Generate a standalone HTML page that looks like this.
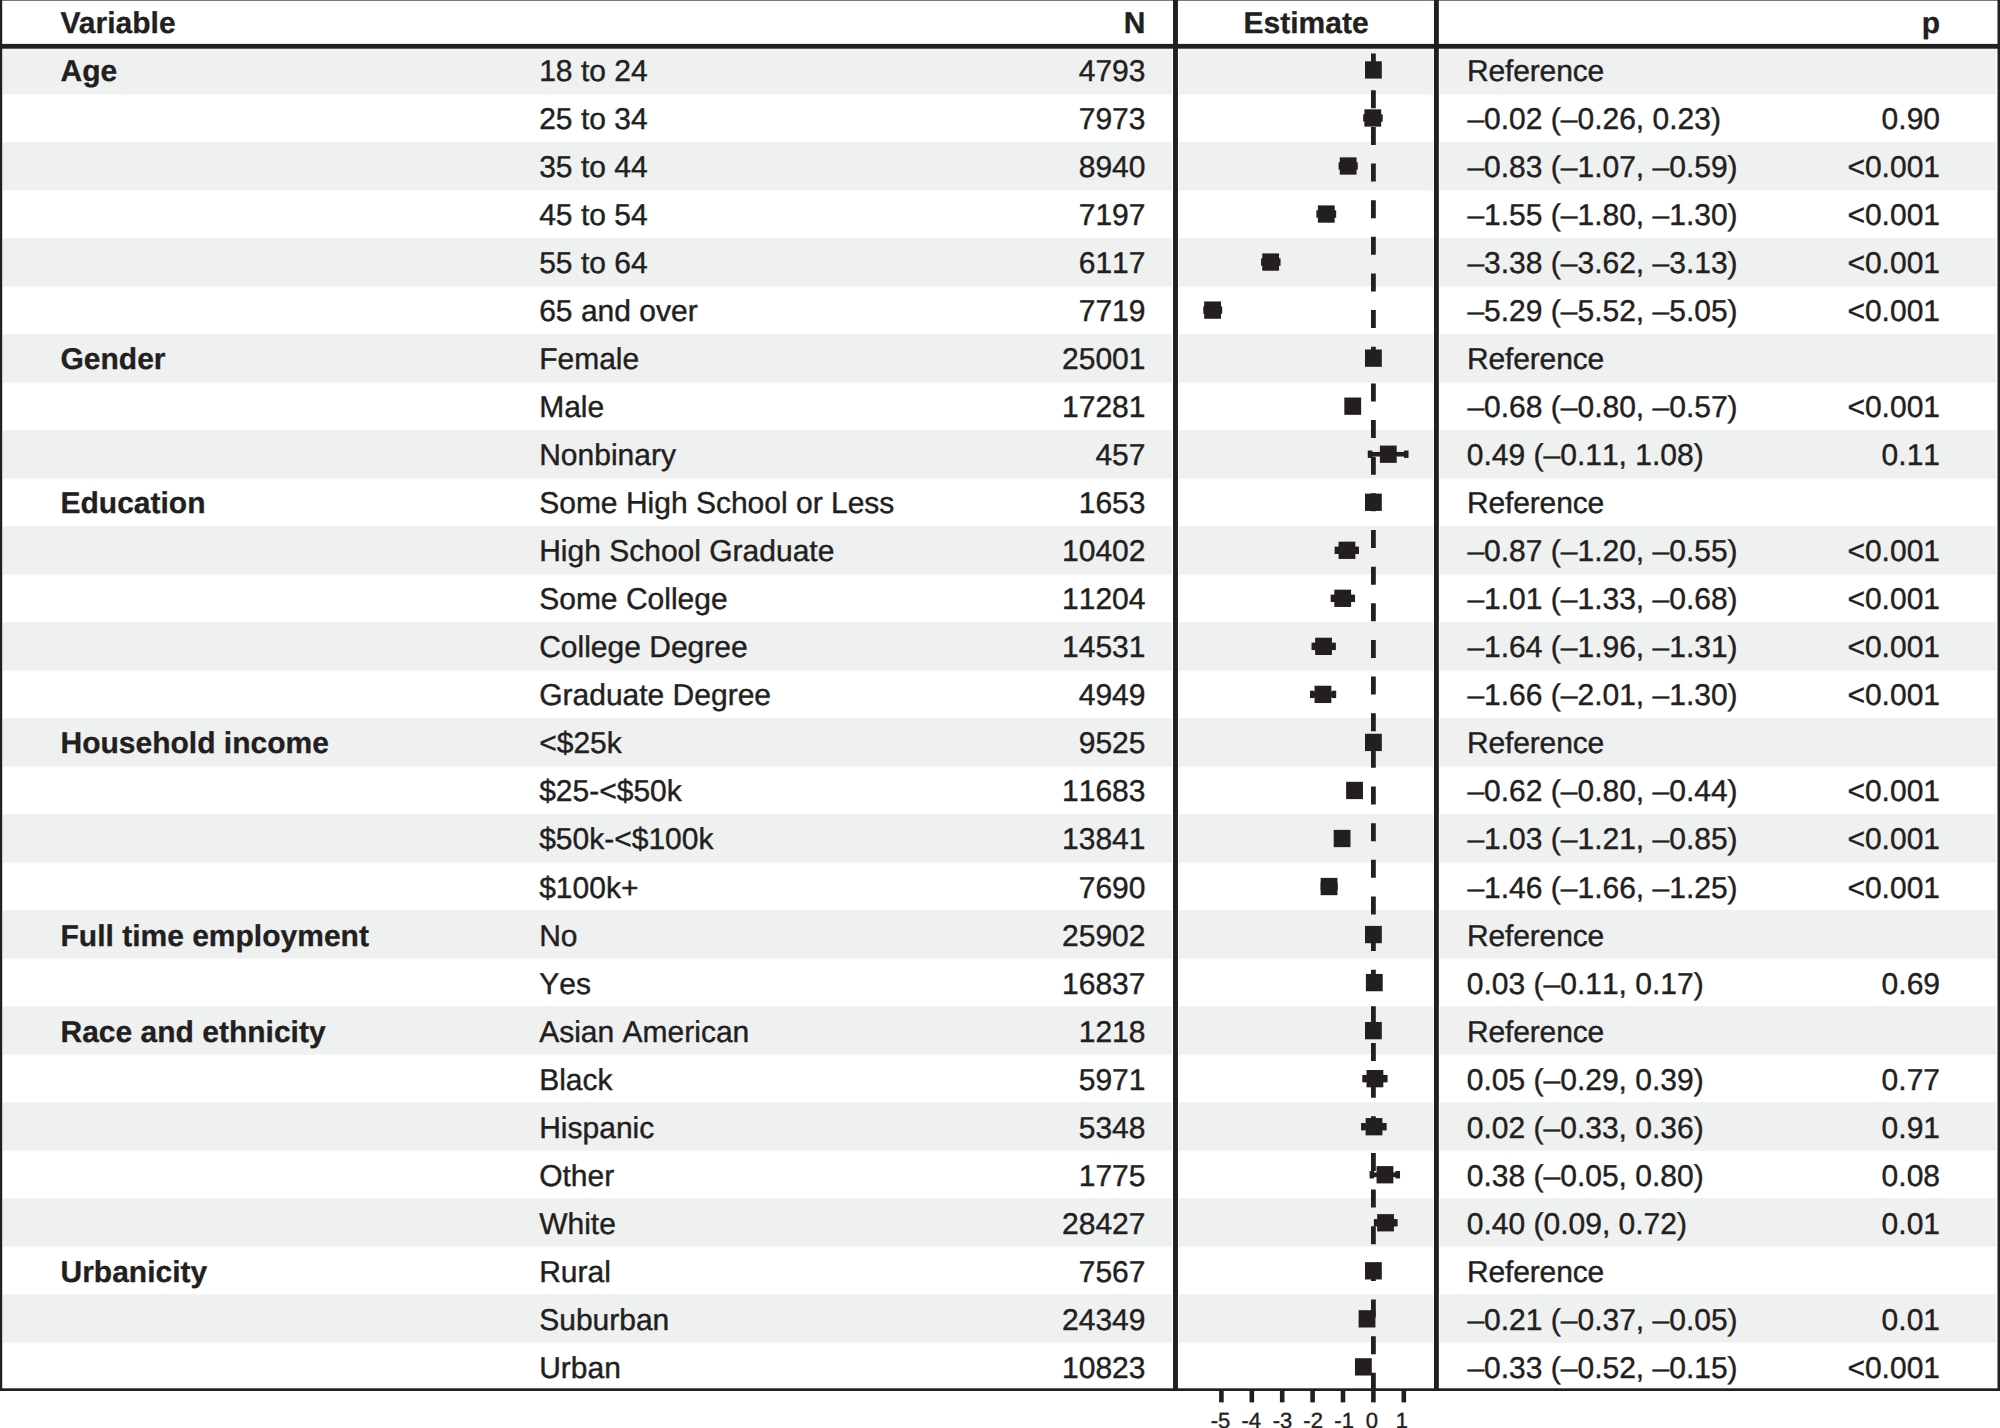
<!DOCTYPE html>
<html lang="en"><head><meta charset="utf-8"><title>Forest plot</title>
<style>
html,body{margin:0;padding:0;background:#fff;}
body{width:2000px;height:1428px;overflow:hidden;}
svg{display:block;}
text{font-family:"Liberation Sans",Helvetica,Arial,sans-serif;fill:#231f20;stroke:#231f20;stroke-width:0.4px;text-rendering:geometricPrecision;font-kerning:none;}
.b{font-weight:bold;stroke-width:0.3px;font-kerning:normal;}
</style></head><body>
<svg width="2000" height="1428" viewBox="0 0 2000 1428">
<rect x="0" y="0" width="2000" height="1428" fill="#fff"/>
<rect x="2.3" y="45.9" width="1169.7" height="48.5" fill="#eff1f0"/>
<rect x="1179.0" y="45.9" width="254.4" height="48.5" fill="#eff1f0"/>
<rect x="1439.8" y="45.9" width="556.4" height="48.5" fill="#eff1f0"/>
<rect x="2.3" y="141.9" width="1169.7" height="48.5" fill="#eff1f0"/>
<rect x="1179.0" y="141.9" width="254.4" height="48.5" fill="#eff1f0"/>
<rect x="1439.8" y="141.9" width="556.4" height="48.5" fill="#eff1f0"/>
<rect x="2.3" y="238.0" width="1169.7" height="48.5" fill="#eff1f0"/>
<rect x="1179.0" y="238.0" width="254.4" height="48.5" fill="#eff1f0"/>
<rect x="1439.8" y="238.0" width="556.4" height="48.5" fill="#eff1f0"/>
<rect x="2.3" y="334.0" width="1169.7" height="48.5" fill="#eff1f0"/>
<rect x="1179.0" y="334.0" width="254.4" height="48.5" fill="#eff1f0"/>
<rect x="1439.8" y="334.0" width="556.4" height="48.5" fill="#eff1f0"/>
<rect x="2.3" y="430.0" width="1169.7" height="48.5" fill="#eff1f0"/>
<rect x="1179.0" y="430.0" width="254.4" height="48.5" fill="#eff1f0"/>
<rect x="1439.8" y="430.0" width="556.4" height="48.5" fill="#eff1f0"/>
<rect x="2.3" y="526.0" width="1169.7" height="48.5" fill="#eff1f0"/>
<rect x="1179.0" y="526.0" width="254.4" height="48.5" fill="#eff1f0"/>
<rect x="1439.8" y="526.0" width="556.4" height="48.5" fill="#eff1f0"/>
<rect x="2.3" y="622.1" width="1169.7" height="48.5" fill="#eff1f0"/>
<rect x="1179.0" y="622.1" width="254.4" height="48.5" fill="#eff1f0"/>
<rect x="1439.8" y="622.1" width="556.4" height="48.5" fill="#eff1f0"/>
<rect x="2.3" y="718.1" width="1169.7" height="48.5" fill="#eff1f0"/>
<rect x="1179.0" y="718.1" width="254.4" height="48.5" fill="#eff1f0"/>
<rect x="1439.8" y="718.1" width="556.4" height="48.5" fill="#eff1f0"/>
<rect x="2.3" y="814.1" width="1169.7" height="48.5" fill="#eff1f0"/>
<rect x="1179.0" y="814.1" width="254.4" height="48.5" fill="#eff1f0"/>
<rect x="1439.8" y="814.1" width="556.4" height="48.5" fill="#eff1f0"/>
<rect x="2.3" y="910.1" width="1169.7" height="48.5" fill="#eff1f0"/>
<rect x="1179.0" y="910.1" width="254.4" height="48.5" fill="#eff1f0"/>
<rect x="1439.8" y="910.1" width="556.4" height="48.5" fill="#eff1f0"/>
<rect x="2.3" y="1006.2" width="1169.7" height="48.5" fill="#eff1f0"/>
<rect x="1179.0" y="1006.2" width="254.4" height="48.5" fill="#eff1f0"/>
<rect x="1439.8" y="1006.2" width="556.4" height="48.5" fill="#eff1f0"/>
<rect x="2.3" y="1102.2" width="1169.7" height="48.5" fill="#eff1f0"/>
<rect x="1179.0" y="1102.2" width="254.4" height="48.5" fill="#eff1f0"/>
<rect x="1439.8" y="1102.2" width="556.4" height="48.5" fill="#eff1f0"/>
<rect x="2.3" y="1198.2" width="1169.7" height="48.5" fill="#eff1f0"/>
<rect x="1179.0" y="1198.2" width="254.4" height="48.5" fill="#eff1f0"/>
<rect x="1439.8" y="1198.2" width="556.4" height="48.5" fill="#eff1f0"/>
<rect x="2.3" y="1294.2" width="1169.7" height="48.5" fill="#eff1f0"/>
<rect x="1179.0" y="1294.2" width="254.4" height="48.5" fill="#eff1f0"/>
<rect x="1439.8" y="1294.2" width="556.4" height="48.5" fill="#eff1f0"/>
<rect x="0" y="0" width="2000" height="1" fill="#7a7879"/>
<rect x="0" y="43.9" width="2000" height="4.8" fill="#231f20"/>
<rect x="0" y="1388.3" width="2000" height="2.7" fill="#231f20"/>
<rect x="-2.6" y="0" width="4.8" height="1390" fill="#231f20"/>
<rect x="1997.5" y="0" width="4.8" height="1390" fill="#231f20"/>
<rect x="1173.05" y="0" width="4.9" height="1390" fill="#231f20"/>
<rect x="1434" y="0" width="4.85" height="1390" fill="#231f20"/>
<line x1="1373.4" y1="53.6" x2="1373.4" y2="1390" stroke="#231f20" stroke-width="4.8" stroke-dasharray="18 18.645"/>
<rect x="1219.10" y="1390" width="4.6" height="12.4" fill="#231f20"/>
<text x="1220.50" y="1428.00" font-size="22" text-anchor="middle">-5</text>
<rect x="1249.50" y="1390" width="4.6" height="12.4" fill="#231f20"/>
<text x="1251.30" y="1428.00" font-size="22" text-anchor="middle">-4</text>
<rect x="1279.90" y="1390" width="4.6" height="12.4" fill="#231f20"/>
<text x="1282.50" y="1428.00" font-size="22" text-anchor="middle">-3</text>
<rect x="1310.30" y="1390" width="4.6" height="12.4" fill="#231f20"/>
<text x="1313.10" y="1428.00" font-size="22" text-anchor="middle">-2</text>
<rect x="1340.70" y="1390" width="4.6" height="12.4" fill="#231f20"/>
<text x="1344.10" y="1428.00" font-size="22" text-anchor="middle">-1</text>
<rect x="1371.10" y="1390" width="4.6" height="12.4" fill="#231f20"/>
<text x="1371.90" y="1428.00" font-size="22" text-anchor="middle">0</text>
<rect x="1401.50" y="1390" width="4.6" height="12.4" fill="#231f20"/>
<text x="1401.90" y="1428.00" font-size="22" text-anchor="middle">1</text>
<text class="b" x="60.50" y="33.00" font-size="30">Variable</text>
<text class="b" x="1145.50" y="33.00" font-size="30" text-anchor="end">N</text>
<text class="b" x="1306.10" y="33.00" font-size="30" text-anchor="middle">Estimate</text>
<text class="b" x="1940.00" y="33.00" font-size="30" text-anchor="end">p</text>
<text class="b" x="60.50" y="80.92" font-size="30">Age</text>
<text x="539.20" y="80.92" font-size="30">18 to 24</text>
<text x="1145.50" y="80.92" font-size="30" text-anchor="end">4793</text>
<text letter-spacing="-0.15" x="1467.00" y="80.92" font-size="30">Reference</text>
<rect x="1365.00" y="61.29" width="16.8" height="17.3" fill="#231f20"/>
<text x="539.20" y="128.95" font-size="30">25 to 34</text>
<text x="1145.50" y="128.95" font-size="30" text-anchor="end">7973</text>
<text x="1467.40" y="128.95" font-size="30">–0.02 (–0.26, 0.23)</text>
<text x="1940.00" y="128.95" font-size="30" text-anchor="end">0.90</text>
<rect x="1365.50" y="115.67" width="14.90" height="4.60" fill="#231f20"/>
<rect x="1363.20" y="114.27" width="4.60" height="7.4" fill="#231f20"/>
<rect x="1378.09" y="114.27" width="4.60" height="7.4" fill="#231f20"/>
<rect x="1364.39" y="109.32" width="16.8" height="17.3" fill="#231f20"/>
<text x="539.20" y="176.99" font-size="30">35 to 44</text>
<text x="1145.50" y="176.99" font-size="30" text-anchor="end">8940</text>
<text x="1467.40" y="176.99" font-size="30">–0.83 (–1.07, –0.59)</text>
<text x="1940.00" y="176.99" font-size="30" text-anchor="end">&lt;0.001</text>
<rect x="1340.87" y="163.71" width="14.59" height="4.60" fill="#231f20"/>
<rect x="1338.57" y="162.31" width="4.60" height="7.4" fill="#231f20"/>
<rect x="1353.16" y="162.31" width="4.60" height="7.4" fill="#231f20"/>
<rect x="1339.77" y="157.36" width="16.8" height="17.3" fill="#231f20"/>
<text x="539.20" y="225.02" font-size="30">45 to 54</text>
<text x="1145.50" y="225.02" font-size="30" text-anchor="end">7197</text>
<text x="1467.40" y="225.02" font-size="30">–1.55 (–1.80, –1.30)</text>
<text x="1940.00" y="225.02" font-size="30" text-anchor="end">&lt;0.001</text>
<rect x="1318.68" y="211.74" width="15.20" height="4.60" fill="#231f20"/>
<rect x="1316.38" y="210.34" width="4.60" height="7.4" fill="#231f20"/>
<rect x="1331.58" y="210.34" width="4.60" height="7.4" fill="#231f20"/>
<rect x="1317.88" y="205.39" width="16.8" height="17.3" fill="#231f20"/>
<text x="539.20" y="273.06" font-size="30">55 to 64</text>
<text x="1145.50" y="273.06" font-size="30" text-anchor="end">6117</text>
<text x="1467.40" y="273.06" font-size="30">–3.38 (–3.62, –3.13)</text>
<text x="1940.00" y="273.06" font-size="30" text-anchor="end">&lt;0.001</text>
<rect x="1263.35" y="259.78" width="14.90" height="4.60" fill="#231f20"/>
<rect x="1261.05" y="258.38" width="4.60" height="7.4" fill="#231f20"/>
<rect x="1275.95" y="258.38" width="4.60" height="7.4" fill="#231f20"/>
<rect x="1262.25" y="253.43" width="16.8" height="17.3" fill="#231f20"/>
<text x="539.20" y="321.09" font-size="30">65 and over</text>
<text x="1145.50" y="321.09" font-size="30" text-anchor="end">7719</text>
<text x="1467.40" y="321.09" font-size="30">–5.29 (–5.52, –5.05)</text>
<text x="1940.00" y="321.09" font-size="30" text-anchor="end">&lt;0.001</text>
<rect x="1205.59" y="307.81" width="14.29" height="4.60" fill="#231f20"/>
<rect x="1203.29" y="306.41" width="4.60" height="7.4" fill="#231f20"/>
<rect x="1217.58" y="306.41" width="4.60" height="7.4" fill="#231f20"/>
<rect x="1204.18" y="301.46" width="16.8" height="17.3" fill="#231f20"/>
<text class="b" x="60.50" y="369.13" font-size="30">Gender</text>
<text x="539.20" y="369.13" font-size="30">Female</text>
<text x="1145.50" y="369.13" font-size="30" text-anchor="end">25001</text>
<text letter-spacing="-0.15" x="1467.00" y="369.13" font-size="30">Reference</text>
<rect x="1365.00" y="349.50" width="16.8" height="17.3" fill="#231f20"/>
<text x="539.20" y="417.17" font-size="30">Male</text>
<text x="1145.50" y="417.17" font-size="30" text-anchor="end">17281</text>
<text x="1467.40" y="417.17" font-size="30">–0.68 (–0.80, –0.57)</text>
<text x="1940.00" y="417.17" font-size="30" text-anchor="end">&lt;0.001</text>
<rect x="1349.08" y="403.88" width="6.99" height="4.60" fill="#231f20"/>
<rect x="1346.78" y="402.48" width="4.60" height="7.4" fill="#231f20"/>
<rect x="1353.77" y="402.48" width="4.60" height="7.4" fill="#231f20"/>
<rect x="1344.33" y="397.53" width="16.8" height="17.3" fill="#231f20"/>
<text x="539.20" y="465.20" font-size="30">Nonbinary</text>
<text x="1145.50" y="465.20" font-size="30" text-anchor="end">457</text>
<text x="1466.80" y="465.20" font-size="30">0.49 (–0.11, 1.08)</text>
<text x="1940.00" y="465.20" font-size="30" text-anchor="end">0.11</text>
<rect x="1370.06" y="451.92" width="36.18" height="4.60" fill="#231f20"/>
<rect x="1367.76" y="450.52" width="4.60" height="7.4" fill="#231f20"/>
<rect x="1403.93" y="450.52" width="4.60" height="7.4" fill="#231f20"/>
<rect x="1379.90" y="445.57" width="16.8" height="17.3" fill="#231f20"/>
<text class="b" x="60.50" y="513.23" font-size="30">Education</text>
<text x="539.20" y="513.23" font-size="30">Some High School or Less</text>
<text x="1145.50" y="513.23" font-size="30" text-anchor="end">1653</text>
<text letter-spacing="-0.15" x="1467.00" y="513.23" font-size="30">Reference</text>
<rect x="1365.00" y="493.60" width="16.8" height="17.3" fill="#231f20"/>
<text x="539.20" y="561.27" font-size="30">High School Graduate</text>
<text x="1145.50" y="561.27" font-size="30" text-anchor="end">10402</text>
<text x="1467.40" y="561.27" font-size="30">–0.87 (–1.20, –0.55)</text>
<text x="1940.00" y="561.27" font-size="30" text-anchor="end">&lt;0.001</text>
<rect x="1336.92" y="547.99" width="19.76" height="4.60" fill="#231f20"/>
<rect x="1334.62" y="546.59" width="4.60" height="7.4" fill="#231f20"/>
<rect x="1354.38" y="546.59" width="4.60" height="7.4" fill="#231f20"/>
<rect x="1338.55" y="541.64" width="16.8" height="17.3" fill="#231f20"/>
<text x="539.20" y="609.30" font-size="30">Some College</text>
<text x="1145.50" y="609.30" font-size="30" text-anchor="end">11204</text>
<text x="1467.40" y="609.30" font-size="30">–1.01 (–1.33, –0.68)</text>
<text x="1940.00" y="609.30" font-size="30" text-anchor="end">&lt;0.001</text>
<rect x="1332.97" y="596.02" width="19.76" height="4.60" fill="#231f20"/>
<rect x="1330.67" y="594.62" width="4.60" height="7.4" fill="#231f20"/>
<rect x="1350.43" y="594.62" width="4.60" height="7.4" fill="#231f20"/>
<rect x="1334.30" y="589.67" width="16.8" height="17.3" fill="#231f20"/>
<text x="539.20" y="657.34" font-size="30">College Degree</text>
<text x="1145.50" y="657.34" font-size="30" text-anchor="end">14531</text>
<text x="1467.40" y="657.34" font-size="30">–1.64 (–1.96, –1.31)</text>
<text x="1940.00" y="657.34" font-size="30" text-anchor="end">&lt;0.001</text>
<rect x="1313.82" y="644.06" width="19.76" height="4.60" fill="#231f20"/>
<rect x="1311.52" y="642.66" width="4.60" height="7.4" fill="#231f20"/>
<rect x="1331.28" y="642.66" width="4.60" height="7.4" fill="#231f20"/>
<rect x="1315.14" y="637.71" width="16.8" height="17.3" fill="#231f20"/>
<text x="539.20" y="705.37" font-size="30">Graduate Degree</text>
<text x="1145.50" y="705.37" font-size="30" text-anchor="end">4949</text>
<text x="1467.40" y="705.37" font-size="30">–1.66 (–2.01, –1.30)</text>
<text x="1940.00" y="705.37" font-size="30" text-anchor="end">&lt;0.001</text>
<rect x="1312.30" y="692.09" width="21.58" height="4.60" fill="#231f20"/>
<rect x="1310.00" y="690.69" width="4.60" height="7.4" fill="#231f20"/>
<rect x="1331.58" y="690.69" width="4.60" height="7.4" fill="#231f20"/>
<rect x="1314.54" y="685.74" width="16.8" height="17.3" fill="#231f20"/>
<text class="b" x="60.50" y="753.41" font-size="30">Household income</text>
<text x="539.20" y="753.41" font-size="30">&lt;$25k</text>
<text x="1145.50" y="753.41" font-size="30" text-anchor="end">9525</text>
<text letter-spacing="-0.15" x="1467.00" y="753.41" font-size="30">Reference</text>
<rect x="1365.00" y="733.78" width="16.8" height="17.3" fill="#231f20"/>
<text x="539.20" y="801.44" font-size="30">$25-&lt;$50k</text>
<text x="1145.50" y="801.44" font-size="30" text-anchor="end">11683</text>
<text x="1467.40" y="801.44" font-size="30">–0.62 (–0.80, –0.44)</text>
<text x="1940.00" y="801.44" font-size="30" text-anchor="end">&lt;0.001</text>
<rect x="1349.08" y="788.16" width="10.94" height="4.60" fill="#231f20"/>
<rect x="1346.78" y="786.76" width="4.60" height="7.4" fill="#231f20"/>
<rect x="1357.72" y="786.76" width="4.60" height="7.4" fill="#231f20"/>
<rect x="1346.15" y="781.81" width="16.8" height="17.3" fill="#231f20"/>
<text x="539.20" y="849.48" font-size="30">$50k-&lt;$100k</text>
<text x="1145.50" y="849.48" font-size="30" text-anchor="end">13841</text>
<text x="1467.40" y="849.48" font-size="30">–1.03 (–1.21, –0.85)</text>
<text x="1940.00" y="849.48" font-size="30" text-anchor="end">&lt;0.001</text>
<rect x="1336.62" y="836.20" width="10.94" height="4.60" fill="#231f20"/>
<rect x="1334.32" y="834.80" width="4.60" height="7.4" fill="#231f20"/>
<rect x="1345.26" y="834.80" width="4.60" height="7.4" fill="#231f20"/>
<rect x="1333.69" y="829.85" width="16.8" height="17.3" fill="#231f20"/>
<text x="539.20" y="897.51" font-size="30">$100k+</text>
<text x="1145.50" y="897.51" font-size="30" text-anchor="end">7690</text>
<text x="1467.40" y="897.51" font-size="30">–1.46 (–1.66, –1.25)</text>
<text x="1940.00" y="897.51" font-size="30" text-anchor="end">&lt;0.001</text>
<rect x="1322.94" y="884.23" width="12.46" height="4.60" fill="#231f20"/>
<rect x="1320.64" y="882.83" width="4.60" height="7.4" fill="#231f20"/>
<rect x="1333.10" y="882.83" width="4.60" height="7.4" fill="#231f20"/>
<rect x="1320.62" y="877.88" width="16.8" height="17.3" fill="#231f20"/>
<text class="b" x="60.50" y="945.55" font-size="30">Full time employment</text>
<text x="539.20" y="945.55" font-size="30">No</text>
<text x="1145.50" y="945.55" font-size="30" text-anchor="end">25902</text>
<text letter-spacing="-0.15" x="1467.00" y="945.55" font-size="30">Reference</text>
<rect x="1365.00" y="925.92" width="16.8" height="17.3" fill="#231f20"/>
<text x="539.20" y="993.58" font-size="30">Yes</text>
<text x="1145.50" y="993.58" font-size="30" text-anchor="end">16837</text>
<text x="1466.80" y="993.58" font-size="30">0.03 (–0.11, 0.17)</text>
<text x="1940.00" y="993.58" font-size="30" text-anchor="end">0.69</text>
<rect x="1370.06" y="980.30" width="8.51" height="4.60" fill="#231f20"/>
<rect x="1367.76" y="978.90" width="4.60" height="7.4" fill="#231f20"/>
<rect x="1376.27" y="978.90" width="4.60" height="7.4" fill="#231f20"/>
<rect x="1365.91" y="973.95" width="16.8" height="17.3" fill="#231f20"/>
<text class="b" x="60.50" y="1041.62" font-size="30">Race and ethnicity</text>
<text x="539.20" y="1041.62" font-size="30">Asian American</text>
<text x="1145.50" y="1041.62" font-size="30" text-anchor="end">1218</text>
<text letter-spacing="-0.15" x="1467.00" y="1041.62" font-size="30">Reference</text>
<rect x="1365.00" y="1021.99" width="16.8" height="17.3" fill="#231f20"/>
<text x="539.20" y="1089.65" font-size="30">Black</text>
<text x="1145.50" y="1089.65" font-size="30" text-anchor="end">5971</text>
<text x="1466.80" y="1089.65" font-size="30">0.05 (–0.29, 0.39)</text>
<text x="1940.00" y="1089.65" font-size="30" text-anchor="end">0.77</text>
<rect x="1364.58" y="1076.37" width="20.67" height="4.60" fill="#231f20"/>
<rect x="1362.28" y="1074.97" width="4.60" height="7.4" fill="#231f20"/>
<rect x="1382.96" y="1074.97" width="4.60" height="7.4" fill="#231f20"/>
<rect x="1366.52" y="1070.02" width="16.8" height="17.3" fill="#231f20"/>
<text x="539.20" y="1137.69" font-size="30">Hispanic</text>
<text x="1145.50" y="1137.69" font-size="30" text-anchor="end">5348</text>
<text x="1466.80" y="1137.69" font-size="30">0.02 (–0.33, 0.36)</text>
<text x="1940.00" y="1137.69" font-size="30" text-anchor="end">0.91</text>
<rect x="1363.37" y="1124.41" width="20.98" height="4.60" fill="#231f20"/>
<rect x="1361.07" y="1123.01" width="4.60" height="7.4" fill="#231f20"/>
<rect x="1382.04" y="1123.01" width="4.60" height="7.4" fill="#231f20"/>
<rect x="1365.61" y="1118.06" width="16.8" height="17.3" fill="#231f20"/>
<text x="539.20" y="1185.72" font-size="30">Other</text>
<text x="1145.50" y="1185.72" font-size="30" text-anchor="end">1775</text>
<text x="1466.80" y="1185.72" font-size="30">0.38 (–0.05, 0.80)</text>
<text x="1940.00" y="1185.72" font-size="30" text-anchor="end">0.08</text>
<rect x="1371.88" y="1172.44" width="25.84" height="4.60" fill="#231f20"/>
<rect x="1369.58" y="1171.04" width="4.60" height="7.4" fill="#231f20"/>
<rect x="1395.42" y="1171.04" width="4.60" height="7.4" fill="#231f20"/>
<rect x="1376.55" y="1166.09" width="16.8" height="17.3" fill="#231f20"/>
<text x="539.20" y="1233.76" font-size="30">White</text>
<text x="1145.50" y="1233.76" font-size="30" text-anchor="end">28427</text>
<text x="1466.80" y="1233.76" font-size="30">0.40 (0.09, 0.72)</text>
<text x="1940.00" y="1233.76" font-size="30" text-anchor="end">0.01</text>
<rect x="1376.14" y="1220.48" width="19.15" height="4.60" fill="#231f20"/>
<rect x="1373.84" y="1219.08" width="4.60" height="7.4" fill="#231f20"/>
<rect x="1392.99" y="1219.08" width="4.60" height="7.4" fill="#231f20"/>
<rect x="1377.16" y="1214.13" width="16.8" height="17.3" fill="#231f20"/>
<text class="b" x="60.50" y="1281.80" font-size="30">Urbanicity</text>
<text x="539.20" y="1281.80" font-size="30">Rural</text>
<text x="1145.50" y="1281.80" font-size="30" text-anchor="end">7567</text>
<text letter-spacing="-0.15" x="1467.00" y="1281.80" font-size="30">Reference</text>
<rect x="1365.00" y="1262.16" width="16.8" height="17.3" fill="#231f20"/>
<text x="539.20" y="1329.83" font-size="30">Suburban</text>
<text x="1145.50" y="1329.83" font-size="30" text-anchor="end">24349</text>
<text x="1467.40" y="1329.83" font-size="30">–0.21 (–0.37, –0.05)</text>
<text x="1940.00" y="1329.83" font-size="30" text-anchor="end">0.01</text>
<rect x="1362.15" y="1316.55" width="9.73" height="4.60" fill="#231f20"/>
<rect x="1359.85" y="1315.15" width="4.60" height="7.4" fill="#231f20"/>
<rect x="1369.58" y="1315.15" width="4.60" height="7.4" fill="#231f20"/>
<rect x="1358.62" y="1310.20" width="16.8" height="17.3" fill="#231f20"/>
<text x="539.20" y="1377.87" font-size="30">Urban</text>
<text x="1145.50" y="1377.87" font-size="30" text-anchor="end">10823</text>
<text x="1467.40" y="1377.87" font-size="30">–0.33 (–0.52, –0.15)</text>
<text x="1940.00" y="1377.87" font-size="30" text-anchor="end">&lt;0.001</text>
<rect x="1357.59" y="1364.58" width="11.25" height="4.60" fill="#231f20"/>
<rect x="1355.29" y="1363.18" width="4.60" height="7.4" fill="#231f20"/>
<rect x="1366.54" y="1363.18" width="4.60" height="7.4" fill="#231f20"/>
<rect x="1354.97" y="1358.23" width="16.8" height="17.3" fill="#231f20"/>
</svg>
</body></html>
